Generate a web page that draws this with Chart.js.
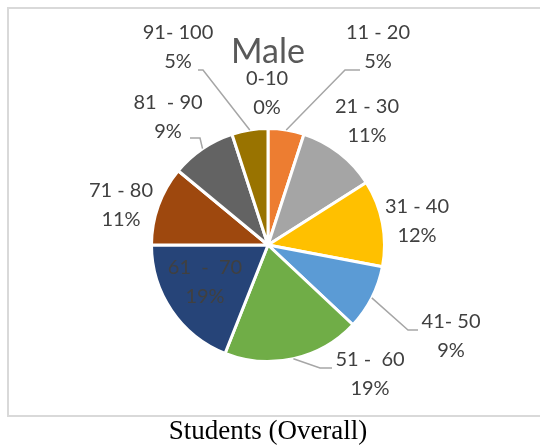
<!DOCTYPE html>
<html>
<head>
<meta charset="utf-8">
<script src="https://cdn.jsdelivr.net/npm/chart.js@4"></script>
<style>
  body { margin: 0; background: #fff; }
  #wrap { position: relative; width: 540px; height: 446px; overflow: hidden; }
  #frame { position: absolute; left: 7px; top: 7px; width: 560px; height: 406px; border: 2px solid #d9d9d9; }
  #pie { position: absolute; left: 0; top: 0; }
  #caption { position: absolute; left: 0; width: 536px; top: 417px; text-align: center; line-height: 27px;
             font-family: "Liberation Serif", serif; font-size: 27px; color: #000; }
</style>
</head>
<body>
<div id="wrap">
  <div id="frame"></div>
  <canvas id="pie" width="540" height="446"></canvas>
  <div id="caption">Students (Overall)</div>
</div>
<script>
// Data
let groups = ['0-10', '11 - 20', '21 - 30', '31 - 40', '41- 50', '51 -  60', '61  -  70', '71 - 80', '81  - 90', '91- 100'];
let shares = [0, 5, 11, 12, 9, 19, 19, 11, 9, 5];
let sliceColors = ['#4472c4', '#ed7d31', '#a5a5a5', '#ffc000', '#5b9bd5', '#70ad47', '#264478', '#9e480e', '#636363', '#997300'];

// Label placement relative to pie centre (first text line), plus optional leader elbow/end
let labelSpots = [
    { at: [-1, -166] },
    { at: [110, -212], elbow: [77, -175], end: [92, -175] },
    { at: [99, -138] },
    { at: [149, -38] },
    { at: [183, 77], elbow: [140, 85], end: [150, 85] },
    { at: [102, 115], elbow: [52, 123], end: [64, 123] },
    { at: [-63, 23] },
    { at: [-147, -54] },
    { at: [-100, -142], elbow: [-68, -107], end: [-78, -107] },
    { at: [-90, -212], elbow: [-65, -175], end: [-70, -175] }
];

const pieLabels = {
    id: 'pieLabels',
    afterDraw(chart) {
        let ctx = chart.ctx;
        let arcs = chart.getDatasetMeta(0).data;
        let cx = arcs[0].x, cy = arcs[0].y;
        ctx.save();
        // title
        ctx.fillStyle = '#595959';
        ctx.font = '34px Lato';
        ctx.textAlign = 'center';
        ctx.textBaseline = 'middle';
        ctx.fillText('Male', cx, 52);

        arcs.forEach((arc, i) => {
            let spot = labelSpots[i];
            if (spot.elbow) {
                let mid = (arc.startAngle + arc.endAngle) / 2;
                ctx.strokeStyle = '#a6a6a6';
                ctx.lineWidth = 1.5;
                ctx.beginPath();
                ctx.moveTo(cx + Math.cos(mid) * arc.outerRadius, cy + Math.sin(mid) * arc.outerRadius);
                ctx.lineTo(cx + spot.elbow[0], cy + spot.elbow[1]);
                ctx.lineTo(cx + spot.end[0], cy + spot.end[1]);
                ctx.stroke();
            }
            ctx.fillStyle = '#404040';
            ctx.font = '20px Lato';
            ctx.fillText(groups[i], cx + spot.at[0], cy + spot.at[1]);
            ctx.fillText(shares[i] + '%', cx + spot.at[0], cy + spot.at[1] + 29);
        });
        ctx.restore();
    }
};

let ctxPie = document.getElementById('pie').getContext('2d');
let pieChart = new Chart(ctxPie, {
    type: 'pie',
    data: {
        labels: groups,
        datasets: [{
            data: shares,
            backgroundColor: sliceColors,
            borderColor: '#ffffff',
            borderWidth: 3
        }]
    },
    options: {
        responsive: false,
        animation: false,
        layout: {
            padding: { left: 150, right: 154, top: 127, bottom: 83 }
        },
        plugins: {
            legend: { display: false },
            tooltip: { enabled: false }
        }
    },
    plugins: [pieLabels]
});
</script>
</body>
</html>
